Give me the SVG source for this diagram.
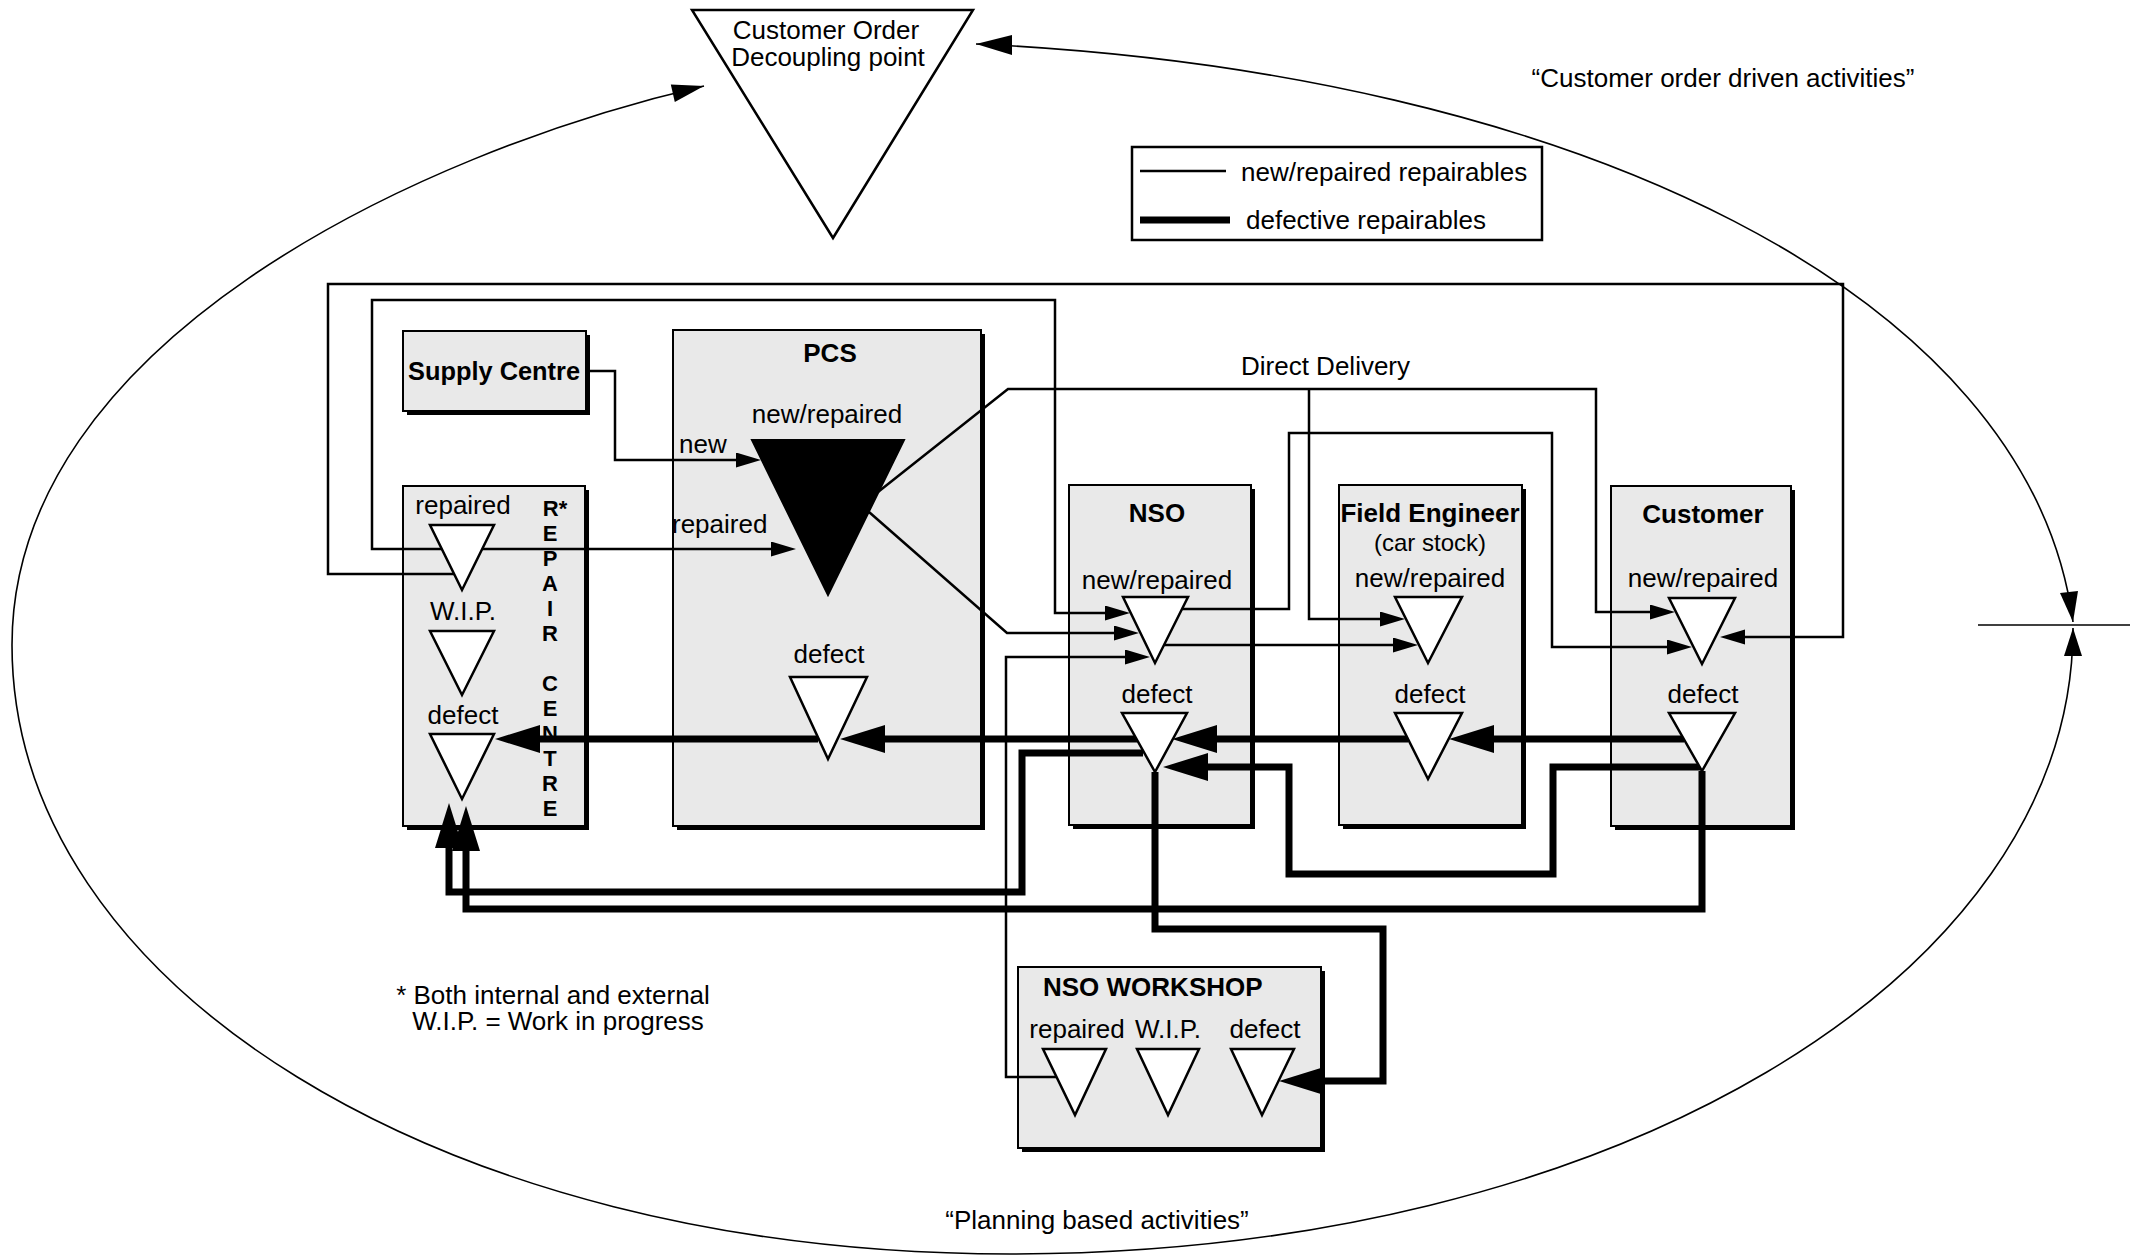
<svg xmlns="http://www.w3.org/2000/svg" width="2136" height="1255" viewBox="0 0 2136 1255">
  <style>
    text { font-family: "Liberation Sans", Arial, Helvetica, sans-serif; font-size: 26px; fill: #000; }
    .b { font-weight: bold; }
    .mid { text-anchor: middle; }
    .stack { font-size: 22px; font-weight: bold; text-anchor: middle; }
    .box { fill: #e9e9e9; stroke: #000; stroke-width: 2; }
    .shadow { fill: #000; }
    .tri { fill: #fff; stroke: #000; stroke-width: 2.5; stroke-linejoin: miter; }
    .solid { fill: #000; stroke: #000; stroke-width: 2; }
    .thin { fill: none; stroke: #000; stroke-width: 2.5; stroke-linejoin: miter; }
    .thick { fill: none; stroke: #000; stroke-width: 7; stroke-linejoin: miter; }
    .arc { fill: none; stroke: #000; stroke-width: 1.6; }
    .head { fill: #000; }
  </style>
  <defs>
    <marker id="ah-thin" markerUnits="userSpaceOnUse" markerWidth="26" markerHeight="16" refX="17" refY="7.5" orient="auto">
      <path d="M0,0 L25,7.5 L0,15 z" fill="#000"/>
    </marker>
    <marker id="ah-thick" markerUnits="userSpaceOnUse" markerWidth="46" markerHeight="29" refX="25" refY="14" orient="auto">
      <path d="M0,0 L45,14 L0,28 z" fill="#000"/>
    </marker>
  </defs>

  <rect width="2136" height="1255" fill="#fff"/>

  <!-- planning / customer-order cycle drawn as two arcs -->
  <g id="cycle">
    <path class="arc" d="M976,44 C1576,72 2030,295 2073,622"/>
    <path class="arc" d="M2073,628 C2073,978 1610,1254 1010,1254 C440,1254 12,985 12,645 C12,345 412,153.5 704,86"/>
    <polygon class="head" points="976,44 1012,35 1012,55"/>
    <polygon class="head" points="704,86 670.8,84.4 674.8,102"/>
    <polygon class="head" points="2073,622 2060,593 2078,591"/>
    <polygon class="head" points="2073,628 2064,656 2082,656"/>
    <path class="arc" d="M1978,625 H2130"/>
    <text class="mid" x="1723" y="87">“Customer order driven activities”</text>
    <text class="mid" x="1097" y="1229">“Planning based activities”</text>
  </g>

  <!-- decoupling point -->
  <g id="decoupling-point">
    <polygon class="tri" points="692,10 973,10 833,238"/>
    <text class="mid" x="826" y="39">Customer Order</text>
    <text class="mid" x="828" y="66">Decoupling point</text>
  </g>

  <!-- legend -->
  <g id="legend">
    <rect x="1132" y="147" width="410" height="93" fill="#fff" stroke="#000" stroke-width="2.5"/>
    <path d="M1140,171 H1226" stroke="#000" stroke-width="2.5"/>
    <path d="M1140,220 H1230" stroke="#000" stroke-width="7"/>
    <text x="1241" y="181">new/repaired repairables</text>
    <text x="1246" y="229">defective repairables</text>
  </g>

  <!-- nodes: boxes -->
  <g id="supply-centre">
    <rect class="shadow" x="407" y="335" width="183" height="80"/>
    <rect class="box" x="403" y="331" width="183" height="80"/>
    <text class="b mid" x="494" y="380" textLength="172" lengthAdjust="spacingAndGlyphs">Supply Centre</text>
  </g>

  <g id="pcs">
    <rect class="shadow" x="677" y="334" width="308" height="496"/>
    <rect class="box" x="673" y="330" width="308" height="496"/>
    <text class="b mid" x="830" y="362">PCS</text>
  </g>

  <g id="repair-centre">
    <rect class="shadow" x="407" y="490" width="182" height="340"/>
    <rect class="box" x="403" y="486" width="182" height="340"/>
    <!-- name stacked letter by letter down the right side -->
    <text class="stack" x="555" y="516">R*</text>
    <text class="stack" x="550" y="541">E</text>
    <text class="stack" x="550" y="566">P</text>
    <text class="stack" x="550" y="591">A</text>
    <text class="stack" x="550" y="616">I</text>
    <text class="stack" x="550" y="641">R</text>
    <text class="stack" x="550" y="691">C</text>
    <text class="stack" x="550" y="716">E</text>
    <text class="stack" x="550" y="741">N</text>
    <text class="stack" x="550" y="766">T</text>
    <text class="stack" x="550" y="791">R</text>
    <text class="stack" x="550" y="816">E</text>
  </g>

  <g id="nso">
    <rect class="shadow" x="1073" y="489" width="182" height="340"/>
    <rect class="box" x="1069" y="485" width="182" height="340"/>
    <text class="b mid" x="1157" y="522">NSO</text>
  </g>

  <g id="field-engineer">
    <rect class="shadow" x="1343" y="489" width="183" height="340"/>
    <rect class="box" x="1339" y="485" width="183" height="340"/>
    <text class="b mid" x="1430" y="522">Field Engineer</text>
    <text class="mid" x="1430" y="551" style="font-size:24px">(car stock)</text>
  </g>

  <g id="customer">
    <rect class="shadow" x="1615" y="490" width="180" height="340"/>
    <rect class="box" x="1611" y="486" width="180" height="340"/>
    <text class="b mid" x="1703" y="523">Customer</text>
  </g>

  <g id="nso-workshop">
    <rect class="shadow" x="1022" y="971" width="303" height="181"/>
    <rect class="box" x="1018" y="967" width="303" height="181"/>
    <text class="b" x="1043" y="996">NSO WORKSHOP</text>
  </g>

  <!-- flows of repairables -->
  <g id="connectors">
    <!-- new / repaired -->
    <path class="thin" d="M454,574 H328 V284 H1843 V637 H1728" marker-end="url(#ah-thin)"/>
    <path class="thin" d="M442,549 H788" marker-end="url(#ah-thin)"/>
    <path class="thin" d="M442,549 H372 V300 H1055 V613 H1122" marker-end="url(#ah-thin)"/>
    <path class="thin" d="M586,371 H615 V460 H753" marker-end="url(#ah-thin)"/>
    <path class="thin" d="M878,492 L1008,389 H1596 V612 H1667" marker-end="url(#ah-thin)"/>
    <path class="thin" d="M1309,389 V619 H1397" marker-end="url(#ah-thin)"/>
    <path class="thin" d="M869,512 L1007,633 H1131" marker-end="url(#ah-thin)"/>
    <path class="thin" d="M1057,1077 H1006 V657 H1142" marker-end="url(#ah-thin)"/>
    <path class="thin" d="M1164,645 H1410" marker-end="url(#ah-thin)"/>
    <path class="thin" d="M1182,609 H1289 V433 H1552 V647 H1684" marker-end="url(#ah-thin)"/>
    <text x="1241" y="375">Direct Delivery</text>
    <!-- defective -->
    <path class="thick" d="M1684,739 H1469" marker-end="url(#ah-thick)"/>
    <path class="thick" d="M1408,739 H1192" marker-end="url(#ah-thick)"/>
    <path class="thick" d="M1137,739 H860" marker-end="url(#ah-thick)"/>
    <path class="thick" d="M818,739 H515" marker-end="url(#ah-thick)"/>
    <path class="thick" d="M1143,753 H1022 V892 H449 V823" marker-end="url(#ah-thick)"/>
    <path class="thick" d="M1702,771 V909 H466 V826" marker-end="url(#ah-thick)"/>
    <path class="thick" d="M1702,767 H1553 V874 H1289 V767 H1183" marker-end="url(#ah-thick)"/>
    <path class="thick" d="M1155,772 V929 H1383 V1081 H1299" marker-end="url(#ah-thick)"/>
  </g>

  <!-- stock points -->
  <g id="pcs-new-repaired">
    <text class="mid" x="827" y="423">new/repaired</text>
    <polygon class="solid" points="752,440 904,440 828,595"/>
    <text x="679" y="453">new</text>
    <text x="672" y="533">repaired</text>
  </g>
  <g id="pcs-defect">
    <text class="mid" x="829" y="663">defect</text>
    <polygon class="tri" points="790,677 867,677 828,759"/>
  </g>

  <g id="rc-repaired">
    <text class="mid" x="463" y="514">repaired</text>
    <polygon class="tri" points="430,525 494,525 462,590"/>
  </g>
  <g id="rc-wip">
    <text class="mid" x="463" y="620">W.I.P.</text>
    <polygon class="tri" points="430,631 494,631 462,695"/>
  </g>
  <g id="rc-defect">
    <text class="mid" x="463" y="724">defect</text>
    <polygon class="tri" points="430,734 494,734 462,799"/>
  </g>

  <g id="nso-new-repaired">
    <text class="mid" x="1157" y="589">new/repaired</text>
    <polygon class="tri" points="1123,597 1188,597 1155,663"/>
  </g>
  <g id="nso-defect">
    <text class="mid" x="1157" y="703">defect</text>
    <polygon class="tri" points="1122,713 1187,713 1155,772"/>
  </g>

  <g id="fe-new-repaired">
    <text class="mid" x="1430" y="587">new/repaired</text>
    <polygon class="tri" points="1395,597 1462,597 1428,663"/>
  </g>
  <g id="fe-defect">
    <text class="mid" x="1430" y="703">defect</text>
    <polygon class="tri" points="1395,713 1462,713 1428,779"/>
  </g>

  <g id="customer-new-repaired">
    <text class="mid" x="1703" y="587">new/repaired</text>
    <polygon class="tri" points="1669,598 1735,598 1702,664"/>
  </g>
  <g id="customer-defect">
    <text class="mid" x="1703" y="703">defect</text>
    <polygon class="tri" points="1669,713 1735,713 1702,771"/>
  </g>

  <g id="ws-repaired">
    <text class="mid" x="1077" y="1038">repaired</text>
    <polygon class="tri" points="1043,1049 1106,1049 1075,1115"/>
  </g>
  <g id="ws-wip">
    <text class="mid" x="1168" y="1038">W.I.P.</text>
    <polygon class="tri" points="1137,1049 1199,1049 1168,1115"/>
  </g>
  <g id="ws-defect">
    <text class="mid" x="1265" y="1038">defect</text>
    <polygon class="tri" points="1231,1049 1294,1049 1262,1115"/>
  </g>

  <g id="notes">
    <text class="mid" x="553" y="1004">* Both internal and external</text>
    <text class="mid" x="558" y="1030">W.I.P. = Work in progress</text>
  </g>
</svg>
